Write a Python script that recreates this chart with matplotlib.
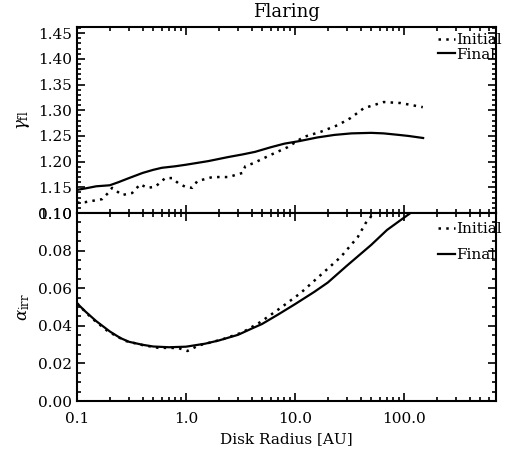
import matplotlib
matplotlib.use("Agg")
import matplotlib.pyplot as plt
import numpy as np
from matplotlib.ticker import FixedLocator, MultipleLocator, FuncFormatter, NullFormatter

# --- data (radius in AU) ---
gam_init_r = [0.10, 0.118, 0.170, 0.193, 0.210, 0.259, 0.321, 0.380, 0.440, 0.522, 0.645,
              0.748, 0.849, 0.986, 1.14, 1.27, 1.75, 2.45, 3.30, 3.50, 4.16, 5.97, 8.55,
              12.0, 17.2, 24.7, 32.5, 42.8, 65.3, 93.6, 149.0]
gam_init_v = [1.120, 1.121, 1.127, 1.139, 1.149, 1.135, 1.139, 1.156, 1.149, 1.151, 1.168,
              1.168, 1.158, 1.151, 1.149, 1.162, 1.170, 1.170, 1.178, 1.191, 1.197, 1.213, 1.228,
              1.248, 1.258, 1.271, 1.285, 1.304, 1.316, 1.314, 1.306]

gam_final_r = [0.10, 0.12, 0.15, 0.20, 0.24, 0.30, 0.40, 0.50, 0.60, 0.80, 1.0, 1.6,
               2.45, 3.3, 4.3, 6.0, 8.0, 11.0, 16.0, 23.0, 33.0, 50.0, 65.0, 90.0, 110.0, 150.0]
gam_final_v = [1.145, 1.148, 1.152, 1.154, 1.160, 1.168, 1.178, 1.184, 1.188, 1.191, 1.194, 1.201,
               1.209, 1.214, 1.219, 1.228, 1.235, 1.240, 1.247, 1.252, 1.255, 1.256, 1.255, 1.252,
               1.250, 1.246]

alp_init_r = [0.10, 0.112, 0.137, 0.193, 0.277, 0.396, 0.556, 0.849, 1.03, 1.30, 2.16,
              3.30, 4.82, 7.37, 11.25, 17.2, 26.3, 37.7, 44.6, 48.8, 60.0, 100.0, 149.0]
alp_init_v = [0.052, 0.049, 0.044, 0.037, 0.032, 0.0298, 0.0283, 0.0282, 0.0266, 0.0295, 0.0328,
              0.0365, 0.042, 0.0495, 0.0574, 0.067, 0.0766, 0.0872, 0.0947, 0.0973, 0.106, 0.130, 0.150]

alp_final_r = [0.10, 0.12, 0.15, 0.20, 0.25, 0.30, 0.40, 0.50, 0.70, 1.0, 1.5, 2.0, 3.0,
               4.0, 5.0, 7.0, 10.0, 15.0, 20.0, 30.0, 50.0, 70.0, 100.0, 125.0, 150.0]
alp_final_v = [0.052, 0.0475, 0.0425, 0.0370, 0.0335, 0.0315, 0.0299, 0.0290, 0.0286, 0.0289,
               0.0305, 0.0322, 0.0352, 0.0385, 0.0410, 0.0460, 0.0515, 0.0580, 0.0630, 0.0720,
               0.0830, 0.0910, 0.0975, 0.1015, 0.105]

x_ticks = [0.1, 1.0, 10.0, 100.0]

plt.rcParams['font.family'] = ['DejaVu Serif']
plt.rcParams['mathtext.fontset'] = 'dejavuserif'

fig = plt.figure(figsize=(5.09, 4.54), dpi=100)
ax1 = fig.add_axes([0.1513, 0.5308, 0.8232, 0.4097])
ax2 = fig.add_axes([0.1513, 0.1167, 0.8232, 0.4141])

dot = (0, (1, 2.1))


def style_axis(ax):
    ax.set_xscale('log')
    ax.set_xlim(0.1, 700)
    for s in ax.spines.values():
        s.set_linewidth(1.5)
    ax.tick_params(which='both', direction='in', top=True, right=True,
                   width=1.2, labelsize=11)
    ax.tick_params(which='major', length=6)
    ax.tick_params(which='minor', length=3)
    ax.tick_params(axis='x', which='major', pad=8)
    ax.xaxis.set_major_locator(FixedLocator(x_ticks))
    ax.xaxis.set_minor_locator(FixedLocator(
        [m * d for d in [0.1, 1, 10, 100] for m in range(2, 10)]))
    ax.xaxis.set_minor_formatter(NullFormatter())


# upper panel: flaring index
style_axis(ax1)
ax1.plot(gam_init_r, gam_init_v, color='k', lw=1.8, linestyle=dot, label='Initial')
ax1.plot(gam_final_r, gam_final_v, color='k', lw=1.6, label='Final')
ax1.set_ylim(1.10, 1.462)
ax1.yaxis.set_major_locator(MultipleLocator(0.05))
ax1.yaxis.set_minor_locator(MultipleLocator(0.01))
ax1.yaxis.set_major_formatter(FuncFormatter(lambda v, p: '%.2f' % v))
ax1.xaxis.set_major_formatter(NullFormatter())
ax1.set_ylabel(r'$\gamma_{\rm fl}$', fontsize=12)
ax1.yaxis.set_label_coords(-0.108, 0.5)
ax1.set_title('Flaring', fontsize=13, pad=7)
ax1.legend(loc='upper left', bbox_to_anchor=(0.862, 0.968), frameon=False,
           borderpad=0, borderaxespad=0, handlelength=1.1, handletextpad=0.1,
           labelspacing=0.05, fontsize=11)

# lower panel: grazing angle
style_axis(ax2)
ax2.plot(alp_init_r, alp_init_v, color='k', lw=1.8, linestyle=dot, label='Initial')
ax2.plot(alp_final_r, alp_final_v, color='k', lw=1.6, label='Final')
ax2.set_ylim(0.0, 0.10)
ax2.yaxis.set_major_locator(MultipleLocator(0.02))
ax2.yaxis.set_minor_locator(MultipleLocator(0.005))
ax2.yaxis.set_major_formatter(FuncFormatter(lambda v, p: '%.2f' % v))
ax2.xaxis.set_major_formatter(FuncFormatter(lambda v, p: '%.1f' % v))
ax2.set_ylabel(r'$\alpha_{\rm irr}$', fontsize=12)
ax2.yaxis.set_label_coords(-0.108, 0.5)
ax2.set_xlabel('Disk Radius [AU]', fontsize=11, labelpad=4)
ax2.legend(loc='upper left', bbox_to_anchor=(0.862, 0.95), frameon=False,
           borderpad=0, borderaxespad=0, handlelength=1.1, handletextpad=0.1,
           labelspacing=0.75, fontsize=11)

fig.savefig('out.png', dpi=100)
